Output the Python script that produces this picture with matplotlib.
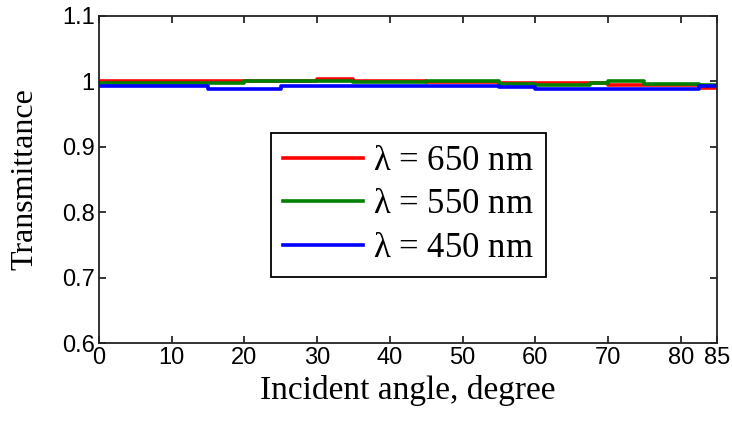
"""Transmittance vs incident angle for three wavelengths"""

import numpy as np
import matplotlib
matplotlib.use('Agg')
import matplotlib.pyplot as plt

# step breakpoints (deg) and transmittance on each step
red_x = [0, 30, 35, 45, 55, 67.5, 70, 82.5, 85]
red_t = [1.000, 1.004, 1.001, 0.999, 0.998, 0.997, 0.9945, 0.9895]

green_x = [0, 20, 30, 35, 45, 55, 60, 67.5, 70, 75, 82.5, 85]
green_t = [0.997, 1.000, 1.000, 0.999, 1.000, 0.996, 0.995, 0.998, 1.000,
           0.996, 0.995]

blue_x = [0, 15, 25, 55, 60, 82.5, 85]
blue_t = [0.9935, 0.989, 0.9935, 0.992, 0.989, 0.9935]

labels = [r'$\lambda$ = 650 nm', r'$\lambda$ = 550 nm', r'$\lambda$ = 450 nm']
colors = ['#ff0000', '#008000', '#0000ff']

xticks = [0, 10, 20, 30, 40, 50, 60, 70, 80, 85]
yticks = [0.6, 0.7, 0.8, 0.9, 1.0, 1.1]
ytick_labels = ['0.6', '0.7', '0.8', '0.9', '1', '1.1']

SERIF = 'Liberation Serif'
SANS = 'Liberation Sans'


def step_line(ax, x, t, col, label):
    """Draw a piecewise constant curve"""
    y = list(t) + [t[-1]]
    ax.plot(x, y, color=col, lw=2.6, drawstyle='steps-post', label=label)


plt.rcParams['mathtext.fontset'] = 'custom'
plt.rcParams['mathtext.rm'] = SERIF
plt.rcParams['mathtext.it'] = SERIF

fig = plt.figure(figsize=(7.32, 4.26), dpi=100)
ax = fig.add_axes([99/732, 1-343/426, 618/732, 327/426])

step_line(ax, red_x, red_t, colors[0], labels[0])
step_line(ax, green_x, green_t, colors[1], labels[1])
step_line(ax, blue_x, blue_t, colors[2], labels[2])

ax.set_xlim(0, 85)
ax.set_ylim(0.6, 1.1)
ax.set_xticks(xticks)
ax.set_xticklabels([str(v) for v in xticks], family=SANS, fontsize=17)
ax.set_yticks(yticks)
ax.set_yticklabels(ytick_labels, family=SANS, fontsize=17)
ax.tick_params(direction='in', top=True, right=True, length=5, width=1.1,
               pad=3)
for sp in ax.spines.values():
    sp.set_linewidth(1.3)
    sp.set_color('#222222')

ax.set_xlabel('Incident angle, degree', family=SERIF, fontsize=24,
              labelpad=4)
ax.set_ylabel('Transmittance', family=SERIF, fontsize=23, labelpad=16)

leg = ax.legend(loc='lower left', bbox_to_anchor=(0.278, 0.202),
                prop={'family': SERIF, 'size': 25}, fancybox=False,
                edgecolor='black', framealpha=1, handlelength=2.3,
                handletextpad=0.29, borderpad=0.35, labelspacing=0.3,
                borderaxespad=0)
leg.get_frame().set_linewidth(1.3)
for line in leg.get_lines():
    line.set_linewidth(2.6)

fig.savefig('out.png', dpi=100)
